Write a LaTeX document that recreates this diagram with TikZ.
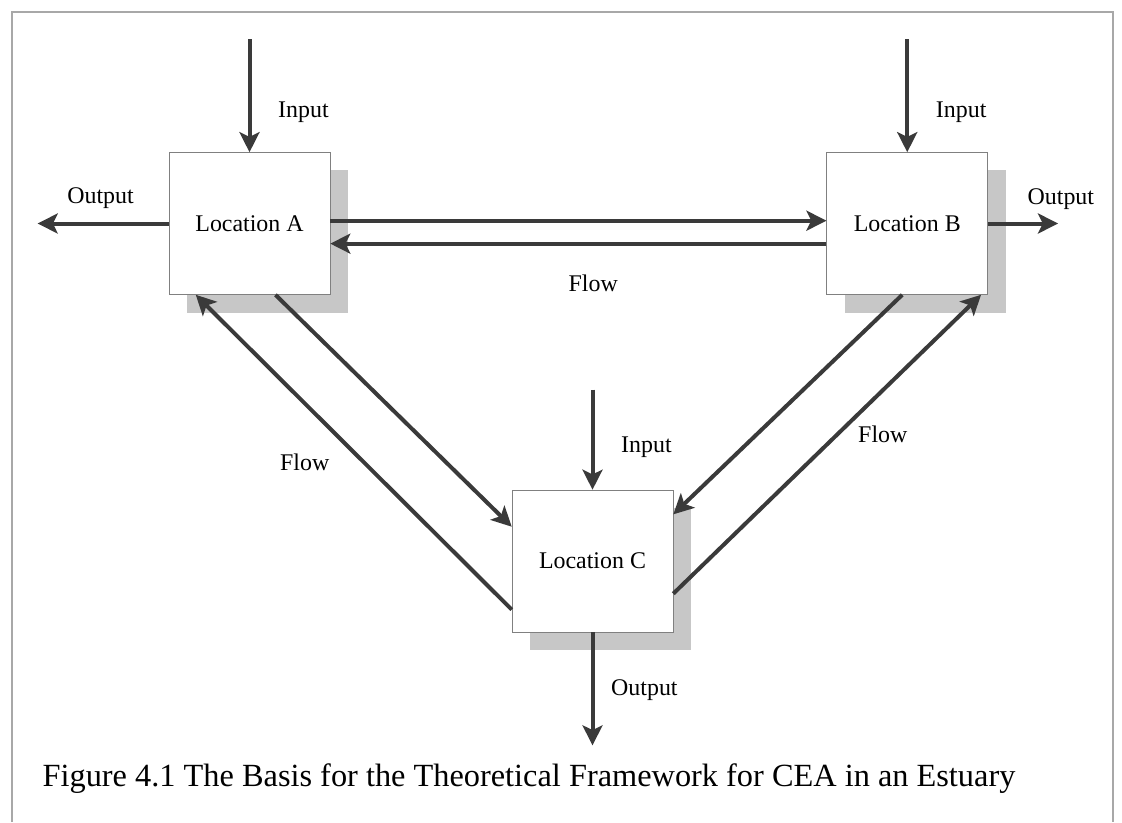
\documentclass[tikz,border=0pt]{standalone}
\usepackage{fontspec}
\setmainfont{Liberation Serif}
\usepackage{tikz}
\usetikzlibrary{positioning}
\usetikzlibrary{calc}
\usetikzlibrary{arrows.meta}
\usetikzlibrary{shadows}
\definecolor{arrgray}{HTML}{3A3A3A}
\definecolor{framegray}{HTML}{A8A8A8}
\tikzstyle{location} = [draw=gray, fill=white, rectangle, minimum width=4.025cm, minimum height=3.55cm, drop shadow={shadow xshift=0.45cm, shadow yshift=-0.45cm, fill=black!22, opacity=1}]
\tikzstyle{coord} = [coordinate]
\tikzstyle{arr} = [draw=arrgray, line width=0.1cm, -{Stealth[length=0.5cm, width=0.5cm, inset=0.12cm]}]

\begin{document}
\begin{tikzpicture}[x=0.025cm, y=-0.025cm, node distance=2.5cm, font=\fontsize{17}{20}\selectfont]
    \useasboundingbox (0,0) rectangle (1122,822);
    \draw [framegray, line width=0.05cm] (12,822) -- (12,12) -- (1113,12) -- (1113,822); % frame
    \node [location] (A) at (249.5,223.5) {Location A};
    \node [location, right = 12.4cm of A] (B) {Location B};
    \node [location] (C) at (592.5,561) {Location C};

    \node [coord, above = 2.825cm of A] (inA) {};
    \node [coord, above = 2.825cm of B] (inB) {};
    \node [coord, above = 2.5cm of C] (inC) {};
    \node [coord, left = 3.275cm of A] (outA) {};
    \node [coord, right = 1.75cm of B] (outB) {};
    \node [coord, below = 2.825cm of C] (outC) {};

    \draw [arr] (inA) -- node[right=0.55cm, pos=0.65] {Input} (A); % inputs
    \draw [arr] (inB) -- node[right=0.55cm, pos=0.65] {Input} (B);
    \draw [arr] (inC) -- node[right=0.55cm, pos=0.58] {Input} (C);
    \draw [arr] (A) -- node[pos=0.52, yshift=0.625cm] {Output} (outA); % outputs
    \draw [arr] (B) -- node[pos=1.04, yshift=0.6cm] {Output} (outB);
    \draw [arr] (C) -- node[right=0.3cm, pos=0.51] {Output} (outC);

    \draw [arr] (A.2) -- (B.178); % flows
    \draw [arr] (B.194) -- node[pos=0.47, yshift=-1cm] {Flow} (A.-14);
    \draw [arr] (A.-70) -- (C.157);
    \draw [arr] (C.211) -- node[xshift=-1.225cm, yshift=-0.25cm] {Flow} (A.-127);
    \draw [arr] (B.-94) -- (C.30);
    \draw [arr] (C.-22) -- node[xshift=1.39cm, yshift=0.26cm] {Flow} (B.-44);

    \node (caption) at (529,779) {\fontsize{23}{26}\selectfont Figure 4.1 The Basis for the Theoretical Framework for CEA in an Estuary};
\end{tikzpicture}
\end{document}
